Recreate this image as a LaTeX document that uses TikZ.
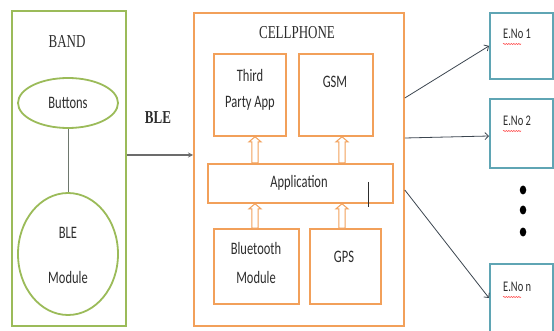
\documentclass[tikz,border=0pt]{standalone}
\usepackage{fontspec}
\setmainfont{Liberation Serif}
\newfontfamily\carl{Carlito}
\usetikzlibrary{calc,arrows.meta,shapes.geometric,decorations.pathmorphing}
\definecolor{bandg}{RGB}{155,187,89}
\definecolor{cellor}{RGB}{242,160,90}
\definecolor{enob}{RGB}{95,165,180}
\definecolor{txt}{RGB}{45,45,45}
\definecolor{linkg}{RGB}{110,120,110}
\definecolor{arrg}{RGB}{60,70,80}
\newcommand{\st}[1]{\scalebox{1}[1.4]{#1}}
\begin{document}
\begin{tikzpicture}[x=1pt,y=-1pt,
  gbox/.style={draw=bandg, line width=1.8pt, anchor=north west, inner sep=0pt},
  gell/.style={draw=bandg, line width=1.8pt, ellipse, inner sep=0pt},
  obox/.style={draw=cellor, line width=1.8pt, anchor=north west, inner sep=0pt, fill=white},
  bbox/.style={draw=enob, line width=1.8pt, anchor=north west, inner sep=0pt},
  serif/.style={text=txt, font=\fontsize{13}{15}\selectfont, inner sep=0pt},
  sans/.style={text=txt, font=\carl\fontsize{12.5}{14}\selectfont, inner sep=0pt},
  enotext/.style={text=txt, font=\carl\fontsize{10.5}{12}\selectfont, inner sep=0pt, anchor=west},
  dot/.style={ellipse, fill=black, minimum width=6.5pt, minimum height=9pt, inner sep=0pt},
  blockup/.style={draw=cellor, line width=1pt, fill=white, to path={
    let \p1=(\tikztostart), \p2=(\tikztotarget) in
    (\x1-3.2pt,\y1) -- (\x1-3.2pt,\y2-5pt) -- (\x1-6pt,\y2-5pt) -- (\x1,\y2)
    -- (\x1+6pt,\y2-5pt) -- (\x1+3.2pt,\y2-5pt) -- (\x1+3.2pt,\y1) -- cycle}},
  blearrow/.style={draw=gray!85!black, line width=1.3pt, -{Stealth[length=5pt,width=5pt]}},
  enoarrow/.style={draw=arrg, line width=0.8pt, -{Straight Barb[length=3.5pt,width=7pt]}},
  squig/.style={draw=red!75, line width=0.5pt, decorate, decoration={snake, amplitude=0.6pt, segment length=2.5pt}}
]
\clip (0,0) rectangle (554,331);
\fill[white] (0,0) rectangle (554,331);

% BAND
\node[gbox, minimum width=114pt, minimum height=315pt] (band) at (11,10) {};
\node[serif] (bandlbl) at (67,42) {\st{BAND}};
\node[gell, minimum width=100pt, minimum height=50pt] (btn) at (68,103) {};
\node[sans] (btnlbl) at (68,103) {\st{Buttons}};
\node[gell, minimum width=100pt, minimum height=122pt] (mod) at (68,254) {};
\node[sans] (modl1) at (68,233) {\st{BLE}};
\node[sans] (modl2) at (68,277) {\st{Module}};
\draw[linkg, line width=0.9pt] (btn.south) -- (mod.north);

% BLE arrow
\node[serif, font=\bfseries\fontsize{13}{15}\selectfont] (blelbl) at (158,118) {\st{BLE}};

% CELLPHONE
\node[obox, minimum width=210pt, minimum height=313pt] (cell) at (193,12) {};
\node[serif] (celllbl) at (297,33) {\st{CELLPHONE}};
\node[obox, minimum width=72pt, minimum height=82pt] (tpa) at (213,53) {};
\node[sans] (tpal1) at (250,75) {\st{Third}};
\node[sans] (tpal2) at (250,103) {\st{Party App}};
\node[obox, minimum width=74pt, minimum height=82pt] (gsm) at (298,53) {};
\node[sans] (gsml) at (335,82) {\st{GSM}};
\node[obox, minimum width=185pt, minimum height=39pt] (app) at (207,163) {};
\node[sans] (appl) at (299,183) {\st{Application}};
\node[obox, minimum width=85pt, minimum height=75pt] (bt) at (213,228) {};
\node[sans] (btl1) at (256,248) {\st{Bluetooth}};
\node[sans] (btl2) at (256,277) {\st{Module}};
\node[obox, minimum width=71pt, minimum height=75pt] (gps) at (309,228) {};
\node[sans] (gpsl) at (344,257) {\st{GPS}};

\coordinate (ca) at (255,0);
\coordinate (cb) at (342,0);
\draw[blockup] (app.north -| ca) to (tpa.south -| ca);
\draw[blockup] (app.north -| cb) to (gsm.south -| cb);
\draw[blockup] (bt.north -| ca) to (app.south -| ca);
\draw[blockup] (gps.north -| cb) to (app.south -| cb);
\draw[txt, line width=1pt] (368,182) -- (368,207);

\draw[blearrow] (band.east |- 0,155) -- (cell.west |- 0,155);

% E.No boxes
\node[bbox, minimum width=63pt, minimum height=66pt] (e1) at (489,12) {};
\node[enotext] (e1l) at (503,34) {\st{E.No 1}};
\node[bbox, minimum width=63pt, minimum height=69pt] (e2) at (489,98) {};
\node[enotext] (e2l) at (503,121) {\st{E.No 2}};
\node[bbox, minimum width=63pt, minimum height=72pt] (en) at (489,263) {};
\node[enotext] (enl) at (503,287) {\st{E.No n}};
\draw[squig] ($(e1l.west)+(0,10)$) -- ($(e1l.west)+(18,10)$);
\draw[squig] ($(e2l.west)+(0,10)$) -- ($(e2l.west)+(18,10)$);
\draw[squig] ($(enl.west)+(0,10)$) -- ($(enl.west)+(18,10)$);

\node[dot] (d1) at (523,190) {};
\node[dot] (d2) at (523,210) {};
\node[dot] (d3) at (523,232) {};

\draw[enoarrow] (cell.east |- 0,98) -- (e1.west);
\draw[enoarrow] (cell.east |- 0,138) -- (e2.west |- 0,136);
\draw[enoarrow] (cell.east |- 0,190) -- (en.west |- 0,298);
\end{tikzpicture}
\end{document}
